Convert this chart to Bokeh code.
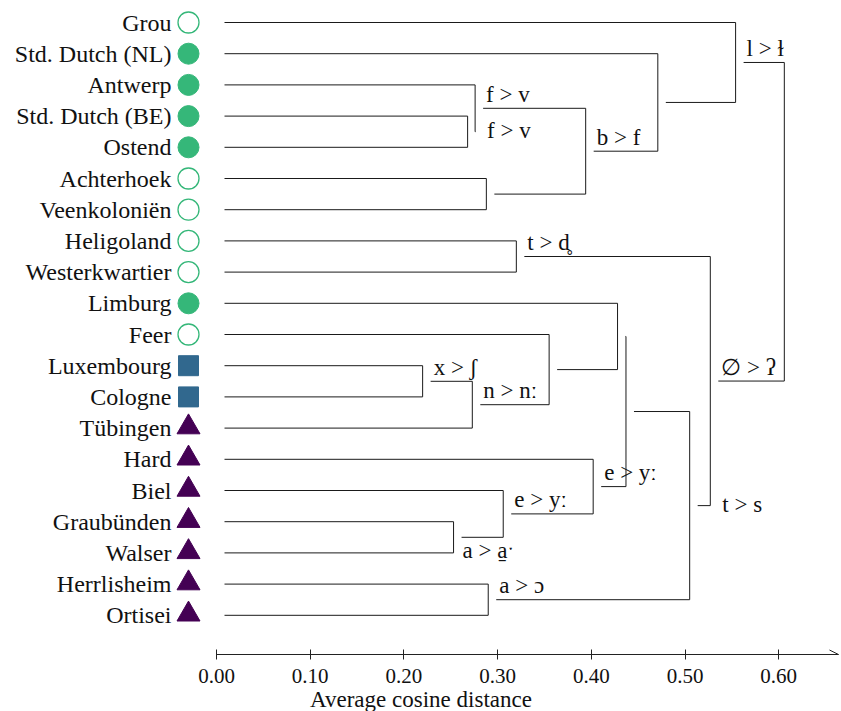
import numpy as np
from bokeh.plotting import figure
from bokeh.models import Range1d, FixedTicker, Arrow, OpenHead, ColumnDataSource
from bokeh.core.properties import value
from bokeh.embed import file_html
from bokeh.resources import INLINE

# ---------------- data ----------------
leaves = ["Grou", "Std. Dutch (NL)", "Antwerp", "Std. Dutch (BE)", "Ostend",
          "Achterhoek", "Veenkoloniën", "Heligoland", "Westerkwartier", "Limburg",
          "Feer", "Luxembourg", "Cologne", "Tübingen", "Hard", "Biel",
          "Graubünden", "Walser", "Herrlisheim", "Ortisei"]
leaf_group = ["open", "filled", "filled", "filled", "filled",
              "open", "open", "open", "open", "filled",
              "open", "square", "square", "triangle", "triangle", "triangle",
              "triangle", "triangle", "triangle", "triangle"]

# merges (scipy style: leaves 0..19, merge k -> node 20+k)
merge_left = [3, 2, 5, 21, 1, 0, 7, 11, 27, 10, 9, 16, 15, 14, 30, 18, 34, 26, 25]
merge_right = [4, 20, 6, 22, 23, 24, 8, 12, 13, 28, 29, 17, 31, 32, 33, 19, 35, 36, 37]
merge_dist = [0.268, 0.276, 0.288, 0.394, 0.471, 0.554, 0.320, 0.220, 0.273, 0.355,
              0.428, 0.253, 0.306, 0.402, 0.437, 0.290, 0.505, 0.527, 0.606]
merge_label = ["f > v", "f > v", "", "b > f", "", "l > ɫ", "t > d̥", "x > ʃ", "n > nː", "",
               "", "a > a̱ˑ", "e > yː", "e > yː", "", "a > ɔ", "t > s", "∅ > ʔ", ""]

tick_values = [0.0, 0.1, 0.2, 0.3, 0.4, 0.5, 0.6]
tick_labels = ["0.00", "0.10", "0.20", "0.30", "0.40", "0.50", "0.60"]
x_label = "Average cosine distance"

# ---------------- styles ----------------
label_side = ["right", "above", "", "above", "", "above", "above", "above", "above", "",
              "", "below", "above", "above", "", "above", "right", "above", ""]
FONT = "Liberation Serif"
INK = "#111111"
LINE = "#1a1a1a"
GREEN = "#35b779"
BLUE = "#31688e"
PURPLE = "#440154"
FRAME_W, FRAME_H = 841, 654
PX_PER_UNIT = 937.0
X0 = -216 / PX_PER_UNIT
X1 = X0 + FRAME_W / PX_PER_UNIT
PX = 1 / PX_PER_UNIT              # data units per pixel
GAP = 8 * PX
ROW = 31.2
Y_TOP = -22 / ROW
Y_BOT = 19 + (FRAME_H - 22 - 19 * ROW) / ROW
AXIS_END = X1 - 3 * PX

# ---------------- dendrogram geometry ----------------
n = len(leaves)
node_y = [float(i) for i in range(n)]
node_h = [0.0] * n
parent = {}
for k, (l, r, d) in enumerate(zip(merge_left, merge_right, merge_dist)):
    node_y.append((node_y[l] + node_y[r]) / 2)
    node_h.append(d)
    parent[l] = n + k
    parent[r] = n + k

sx0, sy0, sx1, sy1 = [], [], [], []
for k, (l, r, d) in enumerate(zip(merge_left, merge_right, merge_dist)):
    for c in (l, r):
        sx0.append(node_h[c] + GAP); sx1.append(d)
        sy0.append(node_y[c]); sy1.append(node_y[c])
    sx0.append(d); sx1.append(d)
    sy0.append(node_y[l]); sy1.append(node_y[r])

p = figure(frame_width=FRAME_W, frame_height=FRAME_H, output_backend="svg",
           toolbar_location=None, x_range=Range1d(X0, X1), y_range=Range1d(Y_BOT, Y_TOP),
           y_axis_location=None, min_border_left=0, min_border_right=0,
           min_border_top=0, min_border_bottom=0)
p.outline_line_color = None
p.grid.visible = False
p.background_fill_color = "white"

p.segment(x0="x0", y0="y0", x1="x1", y1="y1",
          source=ColumnDataSource(dict(x0=sx0, y0=sy0, x1=sx1, y1=sy1)),
          line_color=LINE, line_width=1)

# leaf labels
p.text(x=[0.0] * n, y=node_y[:n], text=leaves, x_offset=-45,
       text_align="right", text_baseline="middle",
       text_font=value(FONT), text_font_size="24px", text_color=INK)

# leaf markers
mx = -28 * PX
def idx(g):
    return [i for i in range(n) if leaf_group[i] == g]
ii = idx("open")
p.scatter([mx] * len(ii), [node_y[i] for i in ii], marker="circle", size=21,
          fill_color="white", line_color=GREEN, line_width=1.3)
ii = idx("filled")
p.scatter([mx] * len(ii), [node_y[i] for i in ii], marker="circle", size=21,
          fill_color=GREEN, line_color=GREEN)
ii = idx("square")
p.scatter([mx] * len(ii), [node_y[i] for i in ii], marker="square", size=20,
          fill_color=BLUE, line_color=BLUE)
ii = idx("triangle")
p.scatter([mx] * len(ii), [node_y[i] - 0.03 for i in ii], marker="triangle", size=23,
          fill_color=PURPLE, line_color=PURPLE)

# sound-change labels
for side, xoff, yoff in [("above", 3, -14), ("below", 1, 13), ("right", 12, -1)]:
    xs, ys, ts = [], [], []
    for k in range(len(merge_label)):
        if label_side[k] != side or not merge_label[k]:
            continue
        node = n + k
        if side == "right":
            xs.append(node_h[parent[node]])
        else:
            xs.append(node_h[node] + GAP)
        ys.append(node_y[node])
        ts.append(merge_label[k])
    p.text(x=xs, y=ys, text=ts, x_offset=xoff, y_offset=yoff,
           text_align="left", text_baseline="middle",
           text_font=value(FONT), text_font_size="23px", text_color=INK)

# x axis
ax = p.xaxis[0]
ax.ticker = FixedTicker(ticks=tick_values)
ax.major_label_overrides = {v: s for v, s in zip(tick_values, tick_labels)}
ax.bounds = (0, AXIS_END)
ax.minor_tick_line_color = None
ax.major_tick_in = 5
ax.major_tick_out = 5
ax.axis_line_color = "#222222"
ax.major_tick_line_color = "#222222"
ax.major_label_text_font = FONT
ax.major_label_text_font_size = "21px"
ax.major_label_text_color = INK
ax.major_label_standoff = 9
ax.axis_label = x_label
ax.axis_label_text_font = FONT
ax.axis_label_text_font_size = "23px"
ax.axis_label_text_font_style = "normal"
ax.axis_label_text_color = INK
ax.axis_label_standoff = 1

p.add_layout(Arrow(end=OpenHead(size=9, line_width=1, line_color="#222222"),
                   x_start=tick_values[-1], y_start=Y_BOT, x_end=AXIS_END, y_end=Y_BOT,
                   line_width=1, line_color="#222222"))

open("out.html", "w").write(file_html(p, INLINE))
